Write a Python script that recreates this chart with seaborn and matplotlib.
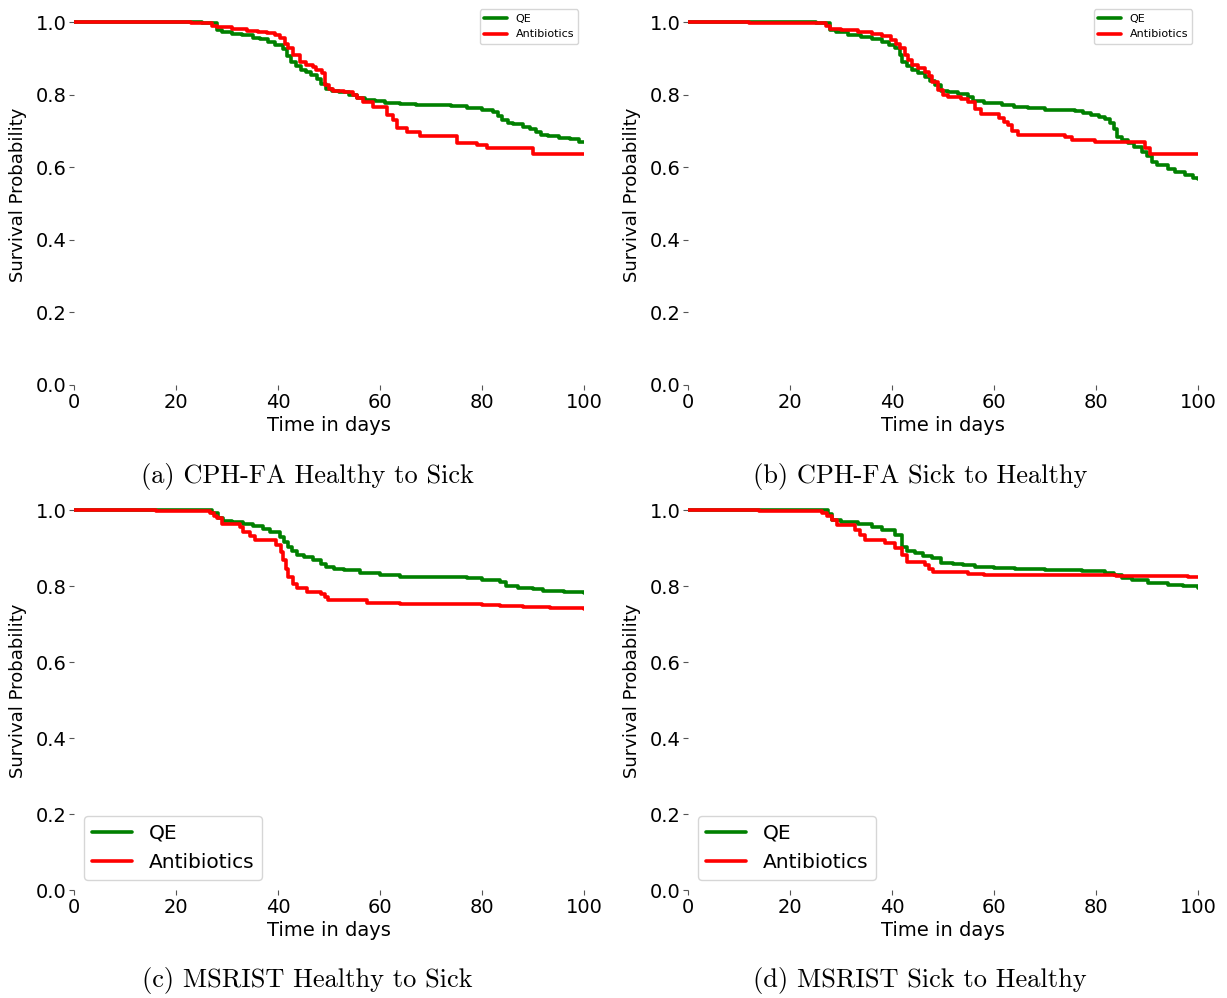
import numpy as np
import pandas as pd
import matplotlib
matplotlib.use("Agg")
import matplotlib.pyplot as plt
import seaborn as sns

# ---------------- data ----------------
series_names = ["QE", "Antibiotics"]
series_colors = ["green", "red"]
xlabel_text = "Time in days"
ylabel_text = "Survival Probability"
x_ticks = [0, 20, 40, 60, 80, 100]
y_ticks = [0.0, 0.2, 0.4, 0.6, 0.8, 1.0]

captions = ["(a) CPH-FA Healthy to Sick", "(b) CPH-FA Sick to Healthy",
            "(c) MSRIST Healthy to Sick", "(d) MSRIST Sick to Healthy"]

# Panel (a) CPH-FA Healthy to Sick
a_qe_t = [0, 25, 28, 29, 31, 33, 35, 36.5, 38, 39.5, 41, 41.8, 42.5, 43.5, 44.5, 45.5, 46.5,
          47.6, 48.5, 49.5, 50.5, 52, 54, 55.4, 57, 59, 61, 64, 67, 70, 74, 77, 80, 82.2,
          83.2, 84, 85, 86, 88, 89.5, 90.5, 91.5, 93, 95, 97.3, 99, 100]
a_qe_s = [1.0, 0.997, 0.978, 0.972, 0.968, 0.963, 0.957, 0.952, 0.945, 0.938, 0.925, 0.905,
          0.89, 0.878, 0.868, 0.862, 0.855, 0.843, 0.83, 0.815, 0.81, 0.806, 0.80, 0.79,
          0.786, 0.783, 0.778, 0.773, 0.771, 0.770, 0.768, 0.763, 0.758, 0.752, 0.742, 0.73,
          0.723, 0.718, 0.712, 0.705, 0.698, 0.69, 0.685, 0.681, 0.677, 0.67, 0.67]
a_ab_t = [0, 23, 27, 28, 31, 34, 36, 37.8, 39.5, 40.4, 41.3, 41.9, 43, 44.3, 45.5, 46.9,
          47.5, 48.6, 49.2, 50, 50.8, 53, 54.8, 55.5, 56.7, 58.7, 61.3, 62.5, 63.3, 65.3,
          67.8, 75, 79, 81, 90, 100]
a_ab_s = [1.0, 0.997, 0.99, 0.985, 0.981, 0.976, 0.972, 0.969, 0.963, 0.955, 0.94, 0.928,
          0.909, 0.89, 0.882, 0.877, 0.868, 0.859, 0.826, 0.815, 0.81, 0.806, 0.799, 0.79,
          0.779, 0.767, 0.744, 0.73, 0.708, 0.697, 0.687, 0.668, 0.662, 0.654, 0.635, 0.635]

# Panel (b) CPH-FA Sick to Healthy
b_qe_t = [0, 25, 27.8, 29, 31.4, 34, 36, 38, 39.5, 40.6, 41.5, 41.9, 43, 43.9, 45, 46.5,
          47.5, 48.4, 49.7, 51, 53, 54.9, 55.9, 58, 61.5, 64, 66.7, 70, 75.9, 77.5, 79, 80.5,
          81.7, 82.7, 83.5, 84.1, 85, 86.3, 87.5, 89, 90, 90.9, 92, 94.2, 95.5, 97.5, 99, 100]
b_qe_s = [1.0, 0.997, 0.978, 0.972, 0.964, 0.958, 0.953, 0.946, 0.938, 0.927, 0.91, 0.89,
          0.878, 0.868, 0.86, 0.849, 0.838, 0.826, 0.81, 0.806, 0.802, 0.794, 0.782, 0.778,
          0.771, 0.766, 0.762, 0.758, 0.755, 0.75, 0.745, 0.739, 0.732, 0.721, 0.705, 0.684,
          0.675, 0.666, 0.655, 0.643, 0.63, 0.615, 0.605, 0.595, 0.588, 0.578, 0.57, 0.567]
b_ab_t = [0, 12, 27, 27.8, 30, 33.4, 36, 38, 39.9, 40.8, 41.6, 42.5, 43.2, 43.9, 45, 46.5,
          47.2, 47.8, 49, 50, 51, 53.5, 54.9, 56.3, 57.5, 61, 62, 62.8, 63.5, 64.7, 73.9,
          75.2, 79.8, 89.6, 90.6, 100]
b_ab_s = [1.0, 0.997, 0.99, 0.982, 0.978, 0.973, 0.967, 0.962, 0.95, 0.94, 0.927, 0.909,
          0.895, 0.882, 0.872, 0.863, 0.85, 0.836, 0.813, 0.8, 0.794, 0.789, 0.78, 0.76,
          0.746, 0.735, 0.725, 0.716, 0.70, 0.689, 0.684, 0.674, 0.669, 0.652, 0.635, 0.635]

# Panel (c) MSRIST Healthy to Sick
c_qe_t = [0, 27, 28.2, 29.3, 31, 33.2, 35, 37, 38.4, 40.4, 41.2, 42, 42.8, 43.7, 45, 46.9,
          48.5, 49.5, 51, 53, 56, 60, 63.9, 70, 77, 80, 83.5, 84.8, 87, 90, 92, 96, 100]
c_qe_s = [1.0, 0.992, 0.98, 0.972, 0.968, 0.963, 0.957, 0.95, 0.943, 0.93, 0.915, 0.903,
          0.892, 0.882, 0.876, 0.868, 0.858, 0.851, 0.846, 0.842, 0.833, 0.829, 0.825, 0.823,
          0.82, 0.816, 0.811, 0.80, 0.796, 0.792, 0.788, 0.784, 0.781]
c_ab_t = [0, 16, 26.7, 27.5, 28, 29, 32.5, 33.2, 34.5, 35.5, 39.7, 40.5, 41, 41.5, 42, 43,
          43.7, 45.6, 48.5, 49.2, 49.8, 57.4, 64, 70.4, 80, 83.5, 88, 93.3, 97, 100]
c_ab_s = [1.0, 0.998, 0.993, 0.985, 0.978, 0.963, 0.956, 0.943, 0.932, 0.921, 0.908, 0.89,
          0.868, 0.845, 0.824, 0.805, 0.794, 0.785, 0.78, 0.772, 0.763, 0.756, 0.753, 0.752,
          0.75, 0.747, 0.745, 0.743, 0.741, 0.740]

# Panel (d) MSRIST Sick to Healthy
d_qe_t = [0, 27.5, 28.2, 30, 33.4, 36, 38, 40.6, 41.9, 43, 44.5, 46, 47.8, 49.7, 52, 54,
          56.3, 60, 64.1, 70, 77.2, 81.8, 83.5, 85, 87, 90.2, 94.1, 97, 100]
d_qe_s = [1.0, 0.99, 0.974, 0.968, 0.963, 0.955, 0.947, 0.934, 0.903, 0.893, 0.886, 0.88,
          0.873, 0.86, 0.857, 0.855, 0.851, 0.848, 0.845, 0.843, 0.84, 0.835, 0.83, 0.82,
          0.815, 0.809, 0.803, 0.799, 0.796]
d_ab_t = [0, 14, 26.2, 27.3, 28.2, 29.2, 32.7, 33.8, 34.7, 38.6, 40.6, 41.9, 42.9, 46.5,
          47.2, 48, 54.9, 58, 83, 84, 98, 100]
d_ab_s = [1.0, 0.998, 0.993, 0.985, 0.974, 0.961, 0.947, 0.935, 0.921, 0.912, 0.899, 0.882,
          0.864, 0.855, 0.845, 0.838, 0.832, 0.829, 0.828, 0.826, 0.823, 0.823]

panels = [
    (a_qe_t, a_qe_s, a_ab_t, a_ab_s),
    (b_qe_t, b_qe_s, b_ab_t, b_ab_s),
    (c_qe_t, c_qe_s, c_ab_t, c_ab_s),
    (d_qe_t, d_qe_s, d_ab_t, d_ab_s),
]

# ---------------- styling / layout ----------------
sns.set_style("ticks")
plt.rcParams["font.family"] = ["DejaVu Sans"]
plt.rcParams["text.color"] = "black"
plt.rcParams["axes.labelcolor"] = "black"

W, H = 1227, 998
fig = plt.figure(figsize=(W / 100, H / 100), dpi=100)

def rect(x0_px, y0_px, y1_px, x1_px, ytop=1.05):
    # x0_px: pixel of x=0, x1_px: pixel of x=100, y0_px: pixel of y=0, y1_px: pixel of y=1
    unit = y0_px - y1_px
    top_px = y0_px - unit * ytop
    return [x0_px / W, 1 - y0_px / H, (x1_px - x0_px) / W, (y0_px - top_px) / H]

rects = [rect(74, 385, 22, 584), rect(688, 385, 22, 1198),
         rect(74, 890, 510, 584), rect(688, 890, 510, 1198)]
legend_cfg = [("upper right", 8), ("upper right", 8), ("lower left", 14.5), ("lower left", 14.5)]
palette = dict(zip(series_names, series_colors))

for i, (qt, qs, at, as_) in enumerate(panels):
    ax = fig.add_axes(rects[i])
    df = pd.concat([
        pd.DataFrame({"t": qt, "s": qs, "group": series_names[0]}),
        pd.DataFrame({"t": at, "s": as_, "group": series_names[1]}),
    ], ignore_index=True)
    sns.lineplot(data=df, x="t", y="s", hue="group", hue_order=series_names,
                 palette=palette, drawstyle="steps-post", linewidth=2.6,
                 estimator=None, ax=ax)
    ax.set_xlim(0, 100)
    ax.set_ylim(0, 1.05)
    ax.set_xticks(x_ticks)
    ax.set_yticks(y_ticks)
    ax.set_yticklabels([f"{v:.1f}" for v in y_ticks])
    ax.tick_params(axis="both", labelsize=14, length=3.5, width=0.8, color="#555555",
                   labelcolor="black", pad=2)
    ax.set_xlabel(xlabel_text, fontsize=14, labelpad=3)
    ax.set_ylabel(ylabel_text, fontsize=13, labelpad=6)
    sns.despine(ax=ax, left=True, bottom=True)
    loc, fs = legend_cfg[i]
    leg = ax.legend(loc=loc, fontsize=fs, title=None, frameon=True)
    for t in leg.get_texts():
        t.set_color("black")

cap_pos = [(307, 477), (920, 477), (307, 981), (920, 981)]
for (cx, cy), txt in zip(cap_pos, captions):
    fig.text(cx / W, 1 - cy / H, txt, fontfamily="cmr10", fontsize=19,
             ha="center", va="center", color="black")

fig.savefig("out.png", dpi=100)
